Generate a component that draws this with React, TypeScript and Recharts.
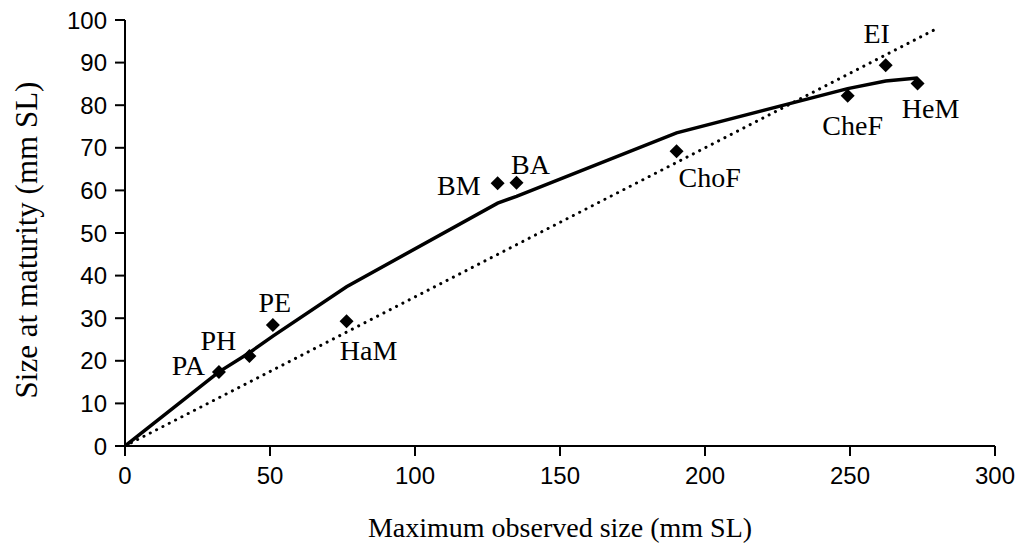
import React from 'react';
import { ScatterChart, Scatter, XAxis, YAxis, Label } from 'recharts';

// species observations (max observed size vs size at maturity, mm SL)
const species = ['PA', 'PH', 'PE', 'HaM', 'BM', 'BA', 'ChoF', 'CheF', 'EI', 'HeM'];
const maxSize = [32.4, 42.9, 51, 76.4, 128.5, 135, 190.2, 249.2, 262.3, 273.3];
const maturitySize = [17.4, 21.1, 28.4, 29.3, 61.7, 61.8, 69.2, 82.2, 89.4, 85.1];

// fitted curve (solid)
const fitX = [0, 32.4, 42.9, 51, 76.4, 128.5, 135, 190.2, 249.2, 262.3, 273.3];
const fitY = [0, 17.4, 21.9, 25.8, 37.4, 57, 58.6, 73.5, 83.9, 85.7, 86.4];

// reference line (dotted)
const refX = [0, 280];
const refY = [0, 98];

const xTicks = [0, 50, 100, 150, 200, 250, 300];
const yTicks = [0, 10, 20, 30, 40, 50, 60, 70, 80, 90, 100];

// label placement relative to each marker
const labelPos: Record<string, { dx: number; dy: number; anchor: 'start' | 'middle' | 'end' }> = {
  PA: { dx: -14, dy: 3, anchor: 'end' },
  PH: { dx: -31, dy: -6, anchor: 'middle' },
  PE: { dx: 2, dy: -13, anchor: 'middle' },
  HaM: { dx: 22, dy: 39, anchor: 'middle' },
  BM: { dx: -17, dy: 12, anchor: 'end' },
  BA: { dx: 14, dy: -9, anchor: 'middle' },
  ChoF: { dx: 33, dy: 36, anchor: 'middle' },
  CheF: { dx: 5, dy: 39, anchor: 'middle' },
  EI: { dx: -9, dy: -22, anchor: 'middle' },
  HeM: { dx: 13, dy: 35, anchor: 'middle' },
};

const points = species.map((name, i) => ({ name, x: maxSize[i], y: maturitySize[i] }));
const fitData = fitX.map((x, i) => ({ x, y: fitY[i] }));
const refData = refX.map((x, i) => ({ x, y: refY[i] }));

const serif = '"Liberation Serif", "Times New Roman", serif';
const sans = '"Liberation Sans", Arial, sans-serif';

const Diamond = (props: any) => {
  const { cx, cy, payload } = props;
  const s = 7;
  const pos = labelPos[payload.name];
  return (
    <g>
      <polygon points={`${cx},${cy - s} ${cx + s},${cy} ${cx},${cy + s} ${cx - s},${cy}`} fill="#000" />
      <text x={cx + pos.dx} y={cy + pos.dy} textAnchor={pos.anchor} fontFamily={serif} fontSize={28} fill="#000">
        {payload.name}
      </text>
    </g>
  );
};

const NoDot = () => null;

export default function App() {
  return (
    <div style={{ position: 'absolute', left: 0, top: 0, background: '#fff' }}>
      <ScatterChart width={1024} height={550} margin={{ top: 20, right: 29, bottom: 44, left: 65 }}>
        <XAxis
          type="number"
          dataKey="x"
          domain={[0, 300]}
          ticks={xTicks}
          tickSize={10}
          tickMargin={11}
          height={60}
          axisLine={{ stroke: '#000', strokeWidth: 2 }}
          tickLine={{ stroke: '#000', strokeWidth: 2 }}
          tick={{ fill: '#000', fontSize: 24, fontFamily: sans }}
          allowDataOverflow
        >
          <Label
            content={() => (
              <text x={560} y={537} textAnchor="middle" fontFamily={serif} fontSize={28} fill="#000">
                Maximum observed size (mm SL)
              </text>
            )}
          />
        </XAxis>
        <YAxis
          type="number"
          dataKey="y"
          domain={[0, 100]}
          ticks={yTicks}
          tickSize={10}
          tickMargin={8}
          width={60}
          axisLine={{ stroke: '#000', strokeWidth: 2 }}
          tickLine={{ stroke: '#000', strokeWidth: 2 }}
          tick={{ fill: '#000', fontSize: 24, fontFamily: sans }}
          allowDataOverflow
        >
          <Label
            content={() => (
              <text x={26} y={240} transform="rotate(-90 26 240)" textAnchor="middle" dominantBaseline="central" fontFamily={serif} fontSize={31} fill="#000">
                Size at maturity (mm SL)
              </text>
            )}
          />
        </YAxis>
        <Scatter
          data={refData}
          line={{ stroke: '#000', strokeWidth: 3, strokeDasharray: '0.1 7', strokeLinecap: 'round' }}
          shape={NoDot}
          isAnimationActive={false}
        />
        <Scatter
          data={fitData}
          line={{ stroke: '#000', strokeWidth: 3.5 }}
          shape={NoDot}
          isAnimationActive={false}
        />
        <Scatter data={points} shape={Diamond} isAnimationActive={false} />
      </ScatterChart>
    </div>
  );
}
